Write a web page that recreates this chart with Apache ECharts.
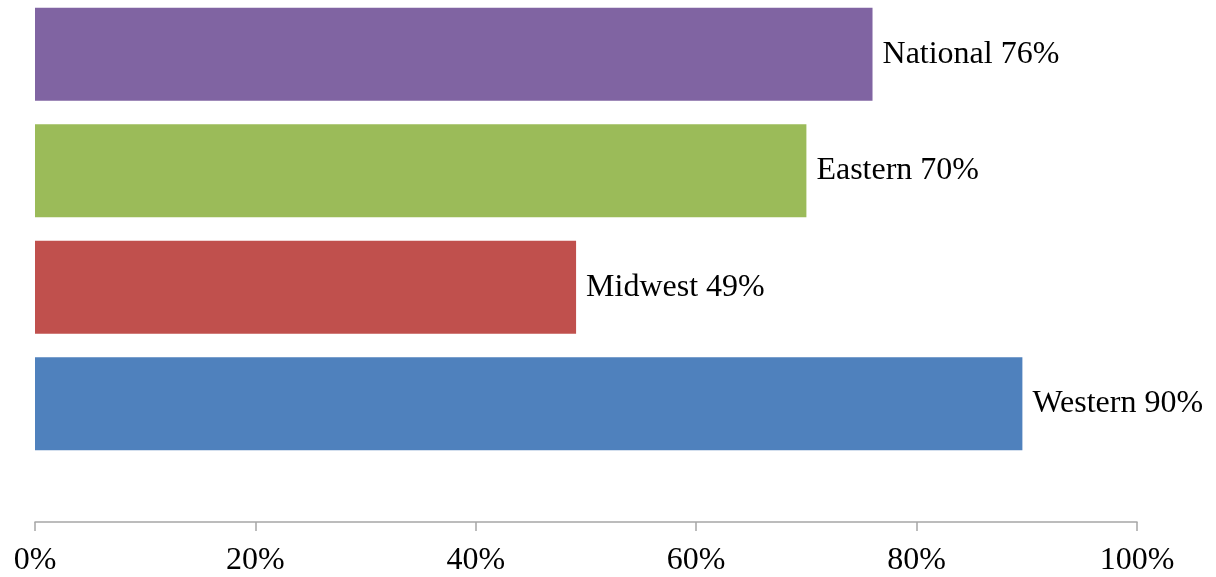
<!DOCTYPE html>
<html>
<head>
<meta charset="utf-8">
<script src="https://cdn.jsdelivr.net/npm/echarts@6/dist/echarts.min.js"></script>
<style>
  html, body { margin: 0; padding: 0; background: #fff; }
  #main { width: 1216px; height: 577px; }
</style>
</head>
<body>
<div id="main"></div>
<script>
// regions, bottom to top
var regions = ['Western', 'Midwest', 'Eastern', 'National'];
var shares = [89.6, 49.1, 70, 76];
var barColors = ['#4F81BD', '#C0504D', '#9BBB59', '#8064A2'];
var tickValues = [0, 20, 40, 60, 80, 100];

var chart = echarts.init(document.getElementById('main'));
var serif = '"Liberation Serif", "DejaVu Serif", serif';

chart.setOption({
    animation: false,
    grid: { left: 35, right: 79, top: -4, height: 466, outerBoundsMode: 'none' },
    xAxis: {
        type: 'value',
        min: 0,
        max: 100,
        interval: 20,
        offset: 60,
        axisLine: { show: true, lineStyle: { color: '#A6A6A6', width: 1.5 } },
        axisTick: { show: true, length: 9, lineStyle: { color: '#A6A6A6', width: 1.5 } },
        splitLine: { show: false },
        axisLabel: {
            margin: 23,
            color: '#000',
            fontFamily: serif,
            fontSize: 32,
            formatter: function (v) { return tickValues.indexOf(v) >= 0 ? v + '%' : ''; }
        }
    },
    yAxis: {
        type: 'category',
        data: regions,
        axisLine: { show: false },
        axisTick: { show: false },
        axisLabel: { show: false }
    },
    series: [{
        type: 'bar',
        data: shares.map(function (v, i) {
            return { value: v, itemStyle: { color: barColors[i] } };
        }),
        barCategoryGap: '20%',
        label: {
            show: true,
            position: 'right',
            distance: 10,
            color: '#000',
            fontFamily: serif,
            fontSize: 32,
            formatter: function (p) { return p.name + ' ' + Math.round(p.value) + '%'; }
        }
    }]
});
</script>
</body>
</html>
